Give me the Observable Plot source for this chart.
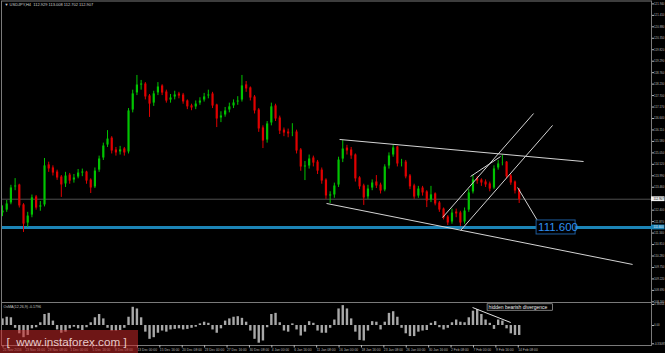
<!DOCTYPE html>
<html><head><meta charset="utf-8">
<script src="https://cdn.jsdelivr.net/npm/d3@7"></script>
<script src="https://cdn.jsdelivr.net/npm/@observablehq/plot@0.6"></script>
<style>
html,body{margin:0;padding:0;background:#000;}
#wrap{position:relative;width:665px;height:353px;background:#000;overflow:hidden;font-family:"Liberation Sans",Arial,sans-serif;}
#wrap svg{display:block;}
#wrap svg.pricepanel{overflow:visible;position:relative;z-index:1;}
#wm{position:absolute;left:0;top:330px;width:138px;height:23px;background:rgba(200,40,40,0.55);color:rgba(255,235,235,0.85);font-size:11.7px;line-height:23px;white-space:pre;font-family:"Liberation Sans",Arial,sans-serif;z-index:2;}
</style></head>
<body><div id="wrap"></div>
<script>
// ---- data (each candle = 3 H4 bars) ----
const headerText = "\u25BC USDJPY,H4  112.929 113.008 112.702 112.907";
const oscHeader = "OsMA(12,26,9) -0.1796";
const firstOpen = 112.25;
const closes = [112.38,112.71,113.45,113.54,112.62,111.78,112.15,112.99,112.52,112.62,
114.47,114.33,114.14,113.91,113.59,114.00,113.77,113.91,114.14,114.14,
113.77,113.45,114.23,114.79,115.39,115.71,115.16,115.07,115.21,115.07,
117.01,117.80,118.21,118.21,117.66,117.33,117.80,118.12,117.84,117.47,
117.61,117.75,117.70,117.43,117.20,117.15,117.33,117.47,117.66,117.75,
117.24,116.64,116.78,117.01,117.20,117.38,117.47,118.17,118.03,117.61,
117.01,116.18,115.62,116.41,117.20,116.64,116.08,115.99,115.95,115.99,
115.16,114.42,114.42,114.79,114.60,114.23,113.77,113.08,113.08,113.54,
114.74,115.25,115.16,114.93,113.87,113.50,112.99,113.40,113.68,113.54,
113.31,114.42,114.93,115.30,114.56,114.60,113.96,113.50,113.03,113.40,
113.22,112.85,113.13,112.71,112.43,112.06,111.83,112.29,112.25,111.83,
112.38,113.22,113.82,113.77,113.68,113.59,113.40,114.33,114.56,114.60,
113.96,113.68,113.31,112.91];
const highs = [112.60,112.85,113.55,113.86,113.60,112.70,112.30,113.10,113.08,112.80,
114.79,114.62,114.45,114.25,114.00,114.15,114.10,114.05,114.28,114.30,
114.20,113.85,114.35,114.90,115.50,116.08,115.80,115.30,115.35,115.30,
117.10,117.95,118.63,118.40,118.30,117.75,117.90,118.30,118.20,117.95,
117.75,117.90,117.85,117.80,117.50,117.30,117.45,117.60,117.80,117.95,
117.85,117.30,116.95,117.15,117.35,117.50,117.65,118.63,118.35,118.10,
117.70,117.10,116.30,116.50,117.35,117.30,116.75,116.20,116.15,116.40,
116.10,115.25,114.65,114.95,114.90,114.70,114.35,113.85,113.25,113.65,
114.85,115.62,115.40,115.30,115.00,113.95,113.60,113.55,113.80,114.00,
113.65,114.50,115.05,115.39,115.35,114.75,114.70,114.05,113.60,113.50,
113.50,113.30,113.50,113.20,112.80,112.50,112.15,112.45,112.45,112.35,
112.50,113.35,114.00,113.95,113.85,113.80,113.70,114.45,114.70,114.93,
114.65,114.05,113.75,113.40];
const lows = [112.10,112.30,112.65,113.30,112.50,111.37,111.60,112.05,112.40,112.35,
112.55,114.15,113.98,113.78,112.99,113.45,113.60,113.65,113.85,113.95,
113.60,113.17,113.40,114.15,114.70,115.30,115.00,114.90,114.95,114.90,
115.00,116.90,117.70,117.95,117.50,116.69,117.20,117.70,117.70,117.35,
117.35,117.50,117.55,117.30,117.05,117.00,117.05,117.25,117.40,117.55,
117.10,116.22,116.45,116.70,116.90,117.10,117.25,117.40,117.85,117.45,
116.85,116.00,115.25,115.50,116.30,116.50,115.90,115.80,115.75,115.80,
115.00,114.20,113.77,114.30,114.40,114.05,113.60,112.90,112.71,112.95,
113.45,114.60,114.95,114.75,113.70,113.35,112.62,112.90,113.30,113.40,
113.15,113.25,114.30,114.85,114.40,114.40,113.85,113.35,112.90,112.95,
113.05,112.52,112.75,112.60,112.30,111.95,111.69,111.75,112.05,111.65,
111.75,112.30,113.15,113.60,113.50,113.45,113.25,113.35,114.25,114.45,
113.85,113.55,113.15,112.71];
const osma = [0.12,0.15,0.14,-0.05,-0.15,-0.22,-0.18,-0.06,-0.04,0.05,
0.20,0.22,0.08,-0.08,-0.14,-0.12,-0.06,-0.03,-0.06,-0.09,
-0.04,0.05,0.14,0.20,0.12,-0.05,-0.10,-0.10,-0.09,-0.05,
0.15,0.33,0.30,0.14,-0.12,-0.25,-0.22,-0.14,-0.10,-0.12,
-0.08,-0.07,-0.06,-0.08,-0.07,-0.05,-0.03,0.03,0.06,0.04,
-0.08,-0.14,-0.06,0.08,0.12,0.15,0.16,0.13,0.06,-0.10,
-0.25,-0.32,-0.28,-0.04,0.20,0.22,0.05,-0.10,-0.12,0.03,
-0.08,-0.19,-0.12,0.07,0.04,-0.10,-0.14,-0.14,-0.05,0.10,
0.30,0.36,0.30,0.12,-0.12,-0.27,-0.28,-0.10,0.07,0.06,
-0.08,0.06,0.22,0.25,0.15,-0.05,-0.15,-0.20,-0.20,-0.12,
-0.10,-0.09,0.04,0.07,-0.04,-0.08,-0.05,0.05,0.10,0.06,
0.05,0.14,0.26,0.29,0.20,0.10,0.04,-0.07,0.10,0.08,
-0.06,-0.15,-0.18,-0.18];
const priceTicks = [121.94,121.41,120.88,120.35,119.82,119.29,118.76,118.23,117.70,117.17,
116.64,116.11,115.58,115.05,114.52,113.99,113.46,112.40,111.87,111.34,
110.81,110.28,109.75,109.22,108.69,108.16];
const oscTicks = [0.38054,0,-0.33087];
const dateLabels = ["21 Nov 2016","23 Nov 16:00","28 Nov 08:00","1 Dec 00:00","5 Dec 16:00","8 Dec 08:00",
"13 Dec 00:00","15 Dec 16:00","20 Dec 08:00","23 Dec 00:00","27 Dec 16:00","30 Dec 08:00",
"4 Jan 00:00","6 Jan 16:00","11 Jan 08:00","16 Jan 00:00","18 Jan 16:00","23 Jan 08:00",
"26 Jan 00:00","30 Jan 16:00","2 Feb 08:00","7 Feb 00:00","9 Feb 16:00","14 Feb 08:00"];
const barsPerLabel = 16/3; // 16 H4 bars between labels, 3 H4 bars per candle
const currentPrice = 112.907;
const targetLevel = 111.60;
const targetText = "111.600";
// trend lines: [candle index, price]
const trendLines = [
  {x1:80.24, y1:115.67, x2:138.33, y2:114.65},
  {x1:77.14, y1:112.71, x2:150.00, y2:109.89},
  {x1:104.76,y1:112.06, x2:126.43, y2:116.87},
  {x1:109.05,y1:111.46, x2:130.95, y2:116.32},
  {x1:111.43,y1:113.96, x2:118.57, y2:114.88},
  {x1:122.62,y1:113.45, x2:127.62, y2:111.83}
];
const divergenceLine = [{x1:111.9, y1:0.326, x2:121.0, y2:0.054}];
const divergenceText = "hidden bearish divergence";
const xDomain = [-0.24, 154.5];

// ---- build ----
const opens = [firstOpen, ...closes.slice(0, -1)];
const candles = closes.map((c, i) => ({i, o: opens[i], c, h: highs[i], l: lows[i], up: c >= opens[i]}));
const up = candles.filter(d => d.up), dn = candles.filter(d => !d.up);
const GREEN = "#00c400", RED = "#e00000", AX = "#b8b8b8", FR = "#7a7a7a";
const xEnd = xDomain[1];
const FS = 2.9;

const price = Plot.plot({
  width: 665, height: 302, marginLeft: 1, marginRight: 14, marginTop: 0.5, marginBottom: 0,
  className: "pricepanel",
  style: {background: "#000", color: AX, fontFamily: "Liberation Sans, Arial, sans-serif"},
  x: {domain: xDomain, axis: null},
  y: {domain: [108.16, 121.94], range: [301.35, 3.4], axis: null},
  marks: [
    Plot.ruleY([currentPrice], {stroke: "#505050", strokeWidth: 1}),
    Plot.ruleY([targetLevel], {stroke: "#1c84b6", strokeWidth: 3}),
    Plot.ruleX(up, {x: "i", y1: "l", y2: "h", stroke: GREEN, strokeWidth: 1}),
    Plot.ruleX(dn, {x: "i", y1: "l", y2: "h", stroke: RED, strokeWidth: 1}),
    Plot.ruleX(up, {x: "i", y1: "o", y2: "c", stroke: GREEN, strokeWidth: 2.2, insetTop: -0.5, insetBottom: -0.5}),
    Plot.ruleX(dn, {x: "i", y1: "o", y2: "c", stroke: RED, strokeWidth: 2.2, insetTop: -0.5, insetBottom: -0.5}),
    Plot.link(trendLines, {x1: "x1", y1: "y1", x2: "x2", y2: "y2", stroke: "#d4d4d4", strokeWidth: 1}),
    Plot.rect([targetLevel], {x1: () => trendLines[5].x2, x2: () => trendLines[5].x2, y1: d => d, y2: d => d,
      insetLeft: -2, insetRight: -37, insetTop: -7, insetBottom: -7, fill: "#000", stroke: "#1d5a9a", strokeWidth: 1}),
    Plot.text([targetLevel], {x: () => trendLines[5].x2, y: d => d, text: () => targetText, textAnchor: "start",
      dx: -0.5, fill: "#2f8ff0", fontSize: 11.5, fontFamily: "Liberation Sans, Arial, sans-serif"}),
    Plot.frame({stroke: FR}),
    Plot.axisY(priceTicks, {anchor: "right", tickSize: 2, tickPadding: 0.5, fontSize: FS, tickFormat: d => d.toFixed(3), color: AX}),
    Plot.rect([currentPrice], {x1: () => xEnd, x2: () => xEnd, y1: d => d, y2: d => d,
      insetRight: -13.5, insetTop: -2.4, insetBottom: -2.4, fill: "#f0f0f0"}),
    Plot.text([currentPrice], {x: () => xEnd, y: d => d, text: d => d.toFixed(3), textAnchor: "start", dx: 2, fontSize: FS, fill: "#000"}),
    Plot.rect([targetLevel], {x1: () => xEnd, x2: () => xEnd, y1: d => d, y2: d => d,
      insetRight: -13.5, insetTop: -2.4, insetBottom: -2.4, fill: "#1c84b6"}),
    Plot.text([targetLevel], {x: () => xEnd, y: d => d, text: () => targetText, textAnchor: "start", dx: 2, fontSize: FS, fill: "#e8f4ff"}),
    Plot.text([headerText], {frameAnchor: "top-left", dx: 3, dy: 2, fontSize: 4, fill: "#d0d0d0", textAnchor: "start"})
  ]
});

const dateTicks = dateLabels.map((_, k) => k * barsPerLabel);
const osc = Plot.plot({
  width: 665, height: 51, marginLeft: 1, marginRight: 14, marginTop: 0, marginBottom: 8,
  style: {background: "#000", color: AX, fontFamily: "Liberation Sans, Arial, sans-serif"},
  x: {domain: xDomain, axis: null},
  y: {domain: [-0.33087, 0.38054], range: [41.3, 2], axis: null},
  marks: [
    Plot.ruleX(osma.map((v, i) => ({i, v})), {x: "i", y1: 0, y2: "v", stroke: "#a8a8a8", strokeWidth: 2.4}),
    Plot.link(divergenceLine, {x1: "x1", y1: "y1", x2: "x2", y2: "y2", stroke: "#e0e0e0", strokeWidth: 1}),
    Plot.rect([0.326], {x1: () => 115.6, x2: () => 115.6, y1: d => d, y2: d => d,
      insetLeft: -0.5, insetRight: -65, insetTop: -3.2, insetBottom: -3.2, fill: "#000", stroke: "#c8c8c8", strokeWidth: 0.6}),
    Plot.text([0.326], {x: () => 115.6, y: d => d, text: () => divergenceText, textAnchor: "start", dx: 0.5, fontSize: 5, fill: "#f0f0f0"}),
    Plot.frame({stroke: FR}),
    Plot.axisY(oscTicks, {anchor: "right", tickSize: 2, tickPadding: 0.5, fontSize: FS, tickFormat: d => d === 0 ? "0.00" : d.toFixed(5), color: AX}),
    Plot.axisX(dateTicks, {anchor: "bottom", tickSize: 2.5, tickPadding: 0.5, fontSize: 3.3, textAnchor: "start", dx: 0.5,
      tickFormat: d => dateLabels[Math.round(d / barsPerLabel)], color: AX}),
    Plot.text([oscHeader], {frameAnchor: "top-left", dx: 2, dy: 2.5, fontSize: 3.6, fill: "#c8c8c8", textAnchor: "start"})
  ]
});

const wrap = document.getElementById("wrap");
wrap.appendChild(price);
wrap.appendChild(osc);
const wm = document.createElement("div");
wm.id = "wm";
wm.textContent = "  [  www.instaforex.com ]";
wrap.appendChild(wm);
</script></body></html>
